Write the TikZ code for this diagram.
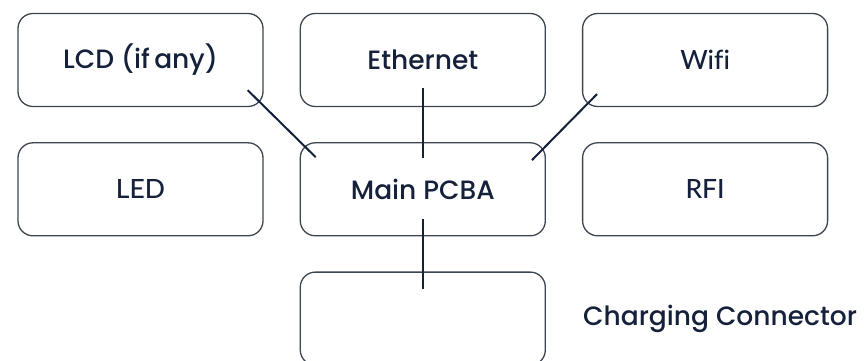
\documentclass[tikz,border=0pt]{standalone}
\usepackage{fontspec}
\setmainfont{Poppins}[UprightFont=* Medium]
\newfontfamily\latofont{Lato}[UprightFont=* Medium, Ligatures=NoCommon]
\usetikzlibrary{positioning}
\definecolor{inkblue}{HTML}{15203A}
\definecolor{edgegray}{HTML}{3C4550}

\begin{document}
\begin{tikzpicture}[x=1pt,y=1pt, node distance=35pt and 36pt,
  every node/.style={font=\fontsize{26.5}{30}\selectfont, text=inkblue},
  box/.style={draw=edgegray, line width=1.3pt, rounded corners=15pt,
    minimum width=245pt, minimum height=93pt, inner sep=0pt},
  link/.style={draw=inkblue, line width=2pt}]
  \useasboundingbox (0,0) rectangle (864,-361);
  % top row
  \node[box] (lcd) at (140.5,-60) {LCD (if\,any)};
  \node[box, right=of lcd] (eth) {Ethernet};
  \node[box, right=of eth] (wifi) {\latofont Wifi};
  % middle row
  \node[box, below=of lcd] (led) {\latofont LED};
  \node[box, below=of eth] (main) {Main PCBA};
  \node[box, below=of wifi] (rfi) {\latofont RFI};
  % bottom
  \node[box, below=of main] (conn) {};
  \node[inner sep=0pt, anchor=west, right=37pt of conn] (connlabel) {Charging Connector};
  % links to the main board
  \draw[link] ([shift={(-16,17)}]lcd.south east) -- ([shift={(16,-15)}]main.north west);
  \draw[link] ([yshift=19]eth.south) -- ([yshift=-16]main.north);
  \draw[link] ([shift={(15,13)}]wifi.south west) -- ([shift={(-14,-18)}]main.north east);
  \draw[link] ([yshift=17]main.south) -- ([yshift=-18]conn.north);
\end{tikzpicture}
\end{document}
